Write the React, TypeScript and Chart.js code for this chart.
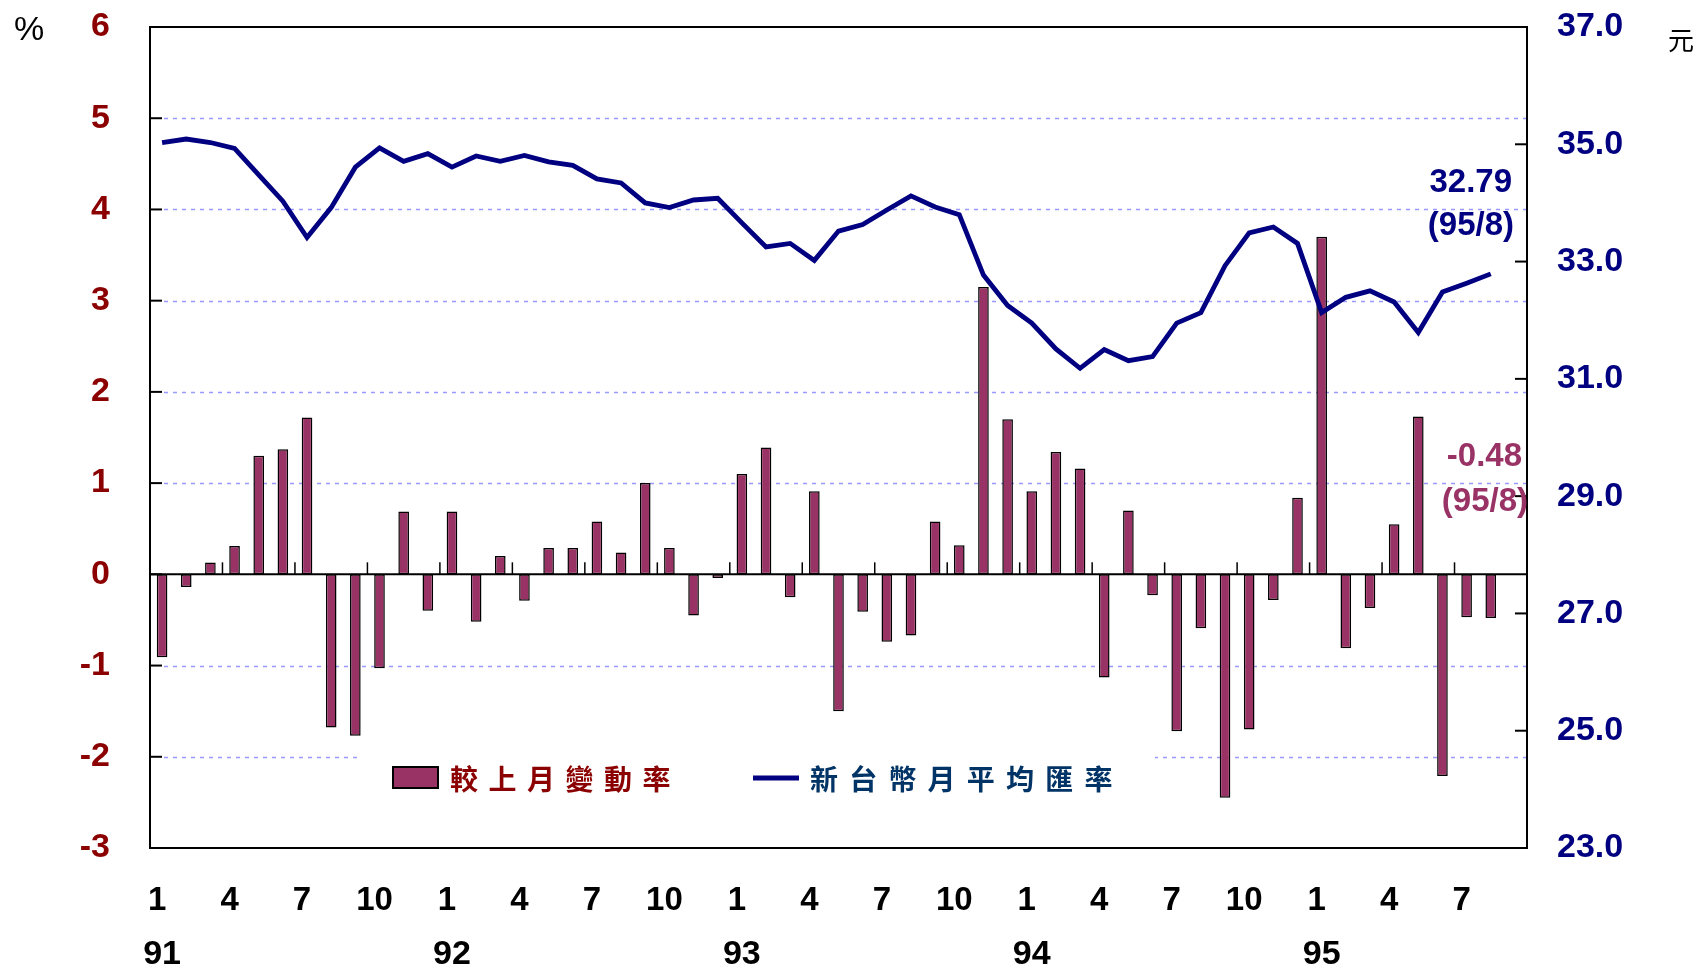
import React, { useEffect, useRef } from "react";
import { Chart, registerables } from "chart.js";

Chart.register(...registerables);

// ---- data ----
const categories: string[] = [
  "91/1", "91/2", "91/3", "91/4", "91/5", "91/6", "91/7", "91/8", "91/9", "91/10", "91/11", "91/12",
  "92/1", "92/2", "92/3", "92/4", "92/5", "92/6", "92/7", "92/8", "92/9", "92/10", "92/11", "92/12",
  "93/1", "93/2", "93/3", "93/4", "93/5", "93/6", "93/7", "93/8", "93/9", "93/10", "93/11", "93/12",
  "94/1", "94/2", "94/3", "94/4", "94/5", "94/6", "94/7", "94/8", "94/9", "94/10", "94/11", "94/12",
  "95/1", "95/2", "95/3", "95/4", "95/5", "95/6", "95/7", "95/8",
];

// 較上月變動率 (%)
const changeRate: number[] = [
  -0.91, -0.14, 0.13, 0.31, 1.30, 1.37, 1.72, -1.68, -1.77, -1.03, 0.69, -0.40,
  0.69, -0.52, 0.20, -0.29, 0.29, 0.29, 0.58, 0.24, 1.00, 0.29, -0.45, -0.04,
  1.10, 1.39, -0.25, 0.91, -1.50, -0.41, -0.74, -0.67, 0.58, 0.32, 3.15, 1.70,
  0.91, 1.34, 1.16, -1.13, 0.70, -0.23, -1.72, -0.59, -2.45, -1.70, -0.28, 0.84,
  3.70, -0.81, -0.37, 0.55, 1.73, -2.21, -0.47, -0.48,
];

// 新台幣月平均匯率 (元)
const exchangeRate: number[] = [
  35.03, 35.09, 35.03, 34.93, 34.48, 34.03, 33.41, 33.92, 34.61, 34.94, 34.71, 34.84,
  34.61, 34.80, 34.71, 34.81, 34.70, 34.64, 34.41, 34.34, 34.00, 33.92, 34.05, 34.08,
  33.66, 33.25, 33.31, 33.02, 33.52, 33.63, 33.88, 34.12, 33.93, 33.80, 32.77, 32.25,
  31.95, 31.51, 31.18, 31.50, 31.31, 31.38, 31.95, 32.13, 32.93, 33.49, 33.59, 33.31,
  32.13, 32.39, 32.50, 32.31, 31.79, 32.48, 32.63, 32.79,
];

const monthTickLabels: string[] = ["1", "4", "7", "10"];
const leftGridValues: number[] = [5, 4, 3, 2, 1, -1, -2];
const barLegend = "較上月變動率";
const lineLegend = "新台幣月平均匯率";
const lineNote = ["32.79", "(95/8)"];
const barNote = ["-0.48", "(95/8)"];

const FONT = '"Liberation Sans", Arial, sans-serif';
const CJK = '"Noto Sans CJK TC", "Noto Sans CJK SC", sans-serif';
const BAR_COLOR = "#993366";
const LINE_COLOR = "#000080";

const decorPlugin = {
  id: "decor",
  beforeDraw(chart: any) {
    const { ctx } = chart;
    ctx.save();
    ctx.fillStyle = "#ffffff";
    ctx.fillRect(0, 0, chart.width, chart.height);
    ctx.restore();
  },
  beforeDatasetsDraw(chart: any) {
    const { ctx, chartArea: a, scales } = chart;
    const y = scales.y;
    ctx.save();
    ctx.strokeStyle = "#9999ff";
    ctx.lineWidth = 1.6;
    ctx.setLineDash([4, 5]);
    for (const v of leftGridValues) {
      const py = Math.round(y.getPixelForValue(v)) + 0.5;
      ctx.beginPath();
      ctx.moveTo(a.left + 14, py);
      ctx.lineTo(a.right, py);
      ctx.stroke();
    }
    ctx.setLineDash([]);
    // legend backdrop (white box inside plot)
    ctx.fillStyle = "#ffffff";
    ctx.fillRect(357, 740, 798, 76);
    ctx.restore();
  },
  afterDatasetsDraw(chart: any) {
    const { ctx, chartArea: a, scales } = chart;
    const x = scales.x;
    const y0 = scales.y.getPixelForValue(0);
    ctx.save();
    ctx.strokeStyle = "#000";
    ctx.lineWidth = 2;
    ctx.beginPath();
    ctx.moveTo(a.left, y0);
    ctx.lineTo(a.right, y0);
    ctx.stroke();
    // quarter separators above the zero line
    ctx.lineWidth = 1.5;
    for (let i = 2; i < categories.length - 1; i += 3) {
      const px = (x.getPixelForValue(i) + x.getPixelForValue(i + 1)) / 2;
      ctx.beginPath();
      ctx.moveTo(px, y0);
      ctx.lineTo(px, y0 - 12);
      ctx.stroke();
    }
    ctx.restore();
  },
  afterDraw(chart: any) {
    const { ctx, chartArea: a, scales } = chart;
    const x = scales.x;
    const y = scales.y;
    const y1 = scales.y1;
    ctx.save();
    // frame
    ctx.strokeStyle = "#000";
    ctx.lineWidth = 2;
    ctx.strokeRect(a.left, a.top, a.right - a.left, a.bottom - a.top);
    // inward ticks
    ctx.lineWidth = 2;
    for (let v = -3; v <= 6; v++) {
      const py = y.getPixelForValue(v);
      ctx.beginPath();
      ctx.moveTo(a.left, py);
      ctx.lineTo(a.left + 12, py);
      ctx.stroke();
    }
    for (let v = 23; v <= 37; v += 2) {
      const py = y1.getPixelForValue(v);
      ctx.beginPath();
      ctx.moveTo(a.right - 12, py);
      ctx.lineTo(a.right, py);
      ctx.stroke();
    }

    // year labels under January
    ctx.fillStyle = "#000";
    ctx.font = `bold 34px ${FONT}`;
    ctx.textAlign = "center";
    ctx.textBaseline = "middle";
    categories.forEach((c, i) => {
      const [yr, m] = c.split("/");
      if (m === "1") ctx.fillText(yr, x.getPixelForValue(i), 955);
    });

    // units
    ctx.font = `34px ${FONT}`;
    ctx.fillText("%", 29, 31);
    ctx.font = `26px ${CJK}`;
    ctx.fillText("元", 1681, 40);

    // legend
    ctx.fillStyle = BAR_COLOR;
    ctx.fillRect(393, 767, 45, 21);
    ctx.strokeStyle = "#000";
    ctx.lineWidth = 2;
    ctx.strokeRect(393, 767, 45, 21);
    ctx.font = `bold 28px ${CJK}`;
    ctx.textAlign = "left";
    ctx.fillStyle = "#8B0000";
    Array.from(barLegend).forEach((ch, i) => ctx.fillText(ch, 450 + i * 38.5, 779));
    ctx.strokeStyle = LINE_COLOR;
    ctx.lineWidth = 5;
    ctx.beginPath();
    ctx.moveTo(753, 778);
    ctx.lineTo(799, 778);
    ctx.stroke();
    ctx.fillStyle = "#003366";
    Array.from(lineLegend).forEach((ch, i) => ctx.fillText(ch, 810 + i * 39.2, 779));

    // annotations
    ctx.font = `bold 33px ${FONT}`;
    ctx.textAlign = "right";
    ctx.fillStyle = LINE_COLOR;
    ctx.fillText(lineNote[0], 1512, 183);
    ctx.fillText(lineNote[1], 1514, 226);
    ctx.fillStyle = BAR_COLOR;
    ctx.fillText(barNote[0], 1522, 457);
    ctx.fillText(barNote[1], 1528, 502);
    ctx.restore();
  },
};

export default function App() {
  const ref = useRef<HTMLCanvasElement>(null);
  useEffect(() => {
    const canvas = ref.current;
    if (!canvas) return;
    const labels = [...categories, ""];
    const chart = new Chart(canvas, {
      type: "bar",
      data: {
        labels,
        datasets: [
          {
            type: "line",
            label: lineLegend,
            data: [...exchangeRate, null],
            yAxisID: "y1",
            borderColor: LINE_COLOR,
            borderWidth: 4.8,
            pointRadius: 0,
            tension: 0,
            order: 0,
          } as any,
          {
            type: "bar",
            label: barLegend,
            data: [...changeRate, null],
            yAxisID: "y",
            backgroundColor: BAR_COLOR,
            borderColor: "#000",
            borderWidth: 1.5,
            borderSkipped: false,
            barPercentage: 0.44,
            categoryPercentage: 1,
            order: 1,
          } as any,
        ],
      },
      options: {
        responsive: false,
        animation: false,
        devicePixelRatio: 1,
        layout: { padding: { top: 27, left: 0, right: 0, bottom: 0 } },
        plugins: {
          legend: { display: false },
          tooltip: { enabled: false },
        },
        scales: {
          x: {
            type: "category",
            offset: true,
            grid: { display: false, drawTicks: false },
            border: { display: false },
            ticks: {
              autoSkip: false,
              maxRotation: 0,
              minRotation: 0,
              padding: 36,
              labelOffset: -5,
              color: "#000",
              font: { family: FONT, size: 33, weight: "bold", lineHeight: 1 },
              callback: (_v: any, i: number) => {
                const c = labels[i];
                if (!c) return "";
                const m = c.split("/")[1];
                return monthTickLabels.includes(m) ? m : "";
              },
            },
            afterFit: (s: any) => {
              s.height = 122;
              s.paddingLeft = 0;
              s.paddingRight = 0;
            },
          },
          y: {
            type: "linear",
            position: "left",
            min: -3,
            max: 6,
            grid: { display: false, drawTicks: false },
            border: { display: false },
            ticks: {
              stepSize: 1,
              padding: 40,
              color: "#8B0000",
              font: { family: FONT, size: 34, weight: "bold" },
            },
            afterFit: (s: any) => {
              s.width = 150;
              s.paddingTop = 0;
              s.paddingBottom = 0;
            },
          },
          y1: {
            type: "linear",
            position: "right",
            min: 23,
            max: 37,
            grid: { display: false, drawTicks: false },
            border: { display: false },
            ticks: {
              stepSize: 2,
              padding: 30,
              color: LINE_COLOR,
              font: { family: FONT, size: 34, weight: "bold" },
              callback: (v: any) => Number(v).toFixed(1),
            },
            afterFit: (s: any) => {
              s.width = 173;
              s.paddingTop = 0;
              s.paddingBottom = 0;
            },
          },
        },
      } as any,
      plugins: [decorPlugin],
    });
    return () => chart.destroy();
  }, []);

  return (
    <div style={{ position: "absolute", left: 0, top: 0, width: 1700, height: 970, background: "#fff" }}>
      <canvas ref={ref} width={1700} height={970} style={{ display: "block", width: 1700, height: 970 }} />
    </div>
  );
}
